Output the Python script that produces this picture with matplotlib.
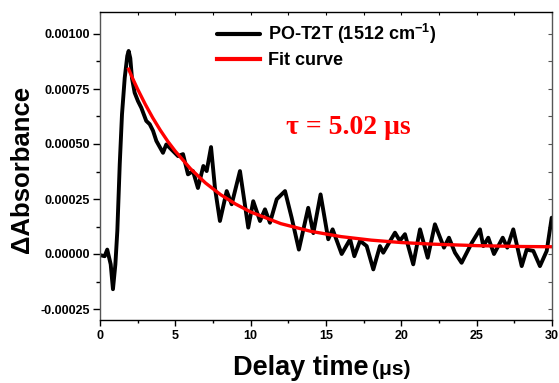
import matplotlib
matplotlib.use("Agg")
import matplotlib.pyplot as plt
from matplotlib.ticker import MultipleLocator, FormatStrFormatter

# ---- data ----
t_data = [0, 0.31, 0.48, 0.71, 0.86, 1.02, 1.15, 1.31, 1.46, 1.64, 1.81, 1.9, 2.01, 2.12,
          2.3, 2.52, 2.74, 3.07, 3.3, 3.52, 3.74, 4.18, 4.4, 4.73, 5.18, 5.51, 5.84, 6.17,
          6.5, 6.86, 7.08, 7.37, 7.63, 7.96, 8.41, 8.74, 9.29, 9.84, 10.17, 10.62, 10.95,
          11.28, 11.73, 12.28, 12.72, 13.2, 13.82, 14.16, 14.64, 15.15, 15.44, 16.04, 16.6,
          16.88, 17.26, 17.7, 18.14, 18.58, 18.8, 19.58, 19.9, 20.24, 20.79, 21.24, 21.75,
          22.23, 22.83, 23.16, 23.56, 24.0, 24.67, 25.22, 25.44, 25.77, 26.15, 26.73, 27.03,
          27.43, 27.99, 28.32, 28.76, 29.2, 29.65, 29.98]
dA_data = [-0.000005, -0.00001, 0.00002, -0.000047, -0.00016, -0.000047, 0.000105, 0.000408,
           0.000635, 0.0008, 0.0009, 0.000923, 0.00089, 0.0008, 0.000733, 0.000695, 0.000665,
           0.000605, 0.00059, 0.00056, 0.000514, 0.00046, 0.000498, 0.000476, 0.000445,
           0.000454, 0.000362, 0.000377, 0.0003, 0.0004, 0.000377, 0.000486, 0.0003, 0.00015,
           0.000286, 0.000226, 0.000377, 0.00012, 0.00024, 0.00015, 0.000203, 0.000142,
           0.000249, 0.000286, 0.000165, 0.00002, 0.00021, 0.000095, 0.000271, 0.000067,
           0.000112, 0.0, 0.000067, -0.00001, 0.00006, 0.000036, -0.00007, 0.000036, 0.000006,
           0.000097, 0.00006, 0.00009, -0.000047, 0.000112, -0.000017, 0.000135, 0.000029,
           0.000074, 0.000006, -0.00004, 0.00005, 0.000112, 0.000036, 0.000074, 0.0, 0.000074,
           0.000029, 0.000112, -0.000055, 0.00002, 0.000014, -0.000055, 0.000014, 0.000165]

t_fit = [1.9, 2.2, 2.5, 3.0, 3.5, 4.0, 4.5, 5.0, 6.0, 7.0, 8.0, 9.0, 10.0, 12.0, 14.0,
         16.0, 18.0, 20.0, 22.0, 25.0, 28.0, 30.0]
dA_fit = [0.00084, 0.000793, 0.000749, 0.000681, 0.000619, 0.000563, 0.000512, 0.000467,
          0.000388, 0.000323, 0.00027, 0.000227, 0.000191, 0.000138, 0.000103, 0.000079,
          0.000063, 0.000052, 0.000045, 0.000038, 0.000034, 0.000033]

legend_labels = ["PO-T2T (1512 cm$^{-1}$)", "Fit curve"]
tau_text = "\u03c4 = 5.02 \u03bcs"

plt.rcParams['font.family'] = ['Liberation Sans', 'DejaVu Sans']
plt.rcParams['mathtext.fontset'] = 'custom'
plt.rcParams['mathtext.rm'] = 'Liberation Sans:bold'
plt.rcParams['mathtext.bf'] = 'Liberation Sans:bold'
plt.rcParams['mathtext.it'] = 'Liberation Sans:bold'

W, H = 559, 383
fig = plt.figure(figsize=(W / 100, H / 100), dpi=100)
ax = fig.add_axes([100 / W, 1 - 320 / H, 452 / W, 308 / H])

ax.plot(t_data, dA_data, color='black', lw=2.8, solid_joinstyle='round',
        solid_capstyle='round', label=legend_labels[0])
ax.plot(t_fit, dA_fit, color='#ff0000', lw=2.4, solid_joinstyle='round',
        label=legend_labels[1])

ax.set_xlim(0, 30)
ax.set_ylim(-0.0003, 0.0011)
ax.xaxis.set_major_locator(MultipleLocator(5))
ax.xaxis.set_minor_locator(MultipleLocator(2.5))
ax.yaxis.set_major_locator(MultipleLocator(0.00025))
ax.yaxis.set_minor_locator(MultipleLocator(0.000125))
ax.yaxis.set_major_formatter(FormatStrFormatter('%.5f'))

ax.tick_params(axis='x', which='major', direction='out', length=4, width=1, pad=3)
ax.tick_params(axis='x', which='minor', direction='out', length=2.5, width=1)
ax.tick_params(axis='y', which='major', direction='out', length=5, width=1, pad=2)
ax.tick_params(axis='y', which='minor', direction='out', length=3, width=1)
for lab in ax.get_xticklabels() + ax.get_yticklabels():
    lab.set_fontweight('bold')
    lab.set_fontsize(9)

for side in ['left', 'right']:
    ax.spines[side].set_color('#555555')
for side in ['top', 'bottom']:
    ax.spines[side].set_color('black')
for s in ax.spines.values():
    s.set_linewidth(1.0)

secx = ax.secondary_xaxis('top')
secx.xaxis.set_major_locator(MultipleLocator(5))
secx.xaxis.set_minor_locator(MultipleLocator(2.5))
secx.tick_params(which='both', direction='in', labeltop=False, length=2.5, width=0.8)
secx.spines['top'].set_visible(False)
secy = ax.secondary_yaxis('right')
secy.yaxis.set_major_locator(MultipleLocator(0.00025))
secy.yaxis.set_minor_locator(MultipleLocator(0.000125))
secy.tick_params(which='both', direction='in', labelright=False, length=3, width=0.8,
                 color='#555555')
secy.spines['right'].set_visible(False)

fig.text(22 / W, 1 - 169 / H, '\u0394Absorbance', rotation=90, fontsize=18.5,
         fontweight='bold', ha='center', va='center')
fig.text(233 / W, 1 - 375 / H, 'Delay time', fontsize=19.5, fontweight='bold',
         ha='left', va='baseline')
fig.text(372 / W, 1 - 375 / H, '(\u03bcs)', fontsize=15, fontweight='bold',
         ha='left', va='baseline')

fig.text(348 / W, 1 - 127 / H, tau_text, fontsize=20, fontweight='bold', color='#ff0000',
         family=['Liberation Serif', 'DejaVu Serif'], ha='center', va='center')

leg = ax.legend(loc='upper left', bbox_to_anchor=(217 / W, 1 - 22 / H),
                bbox_transform=fig.transFigure, frameon=False, fontsize=13,
                handlelength=2.4, handletextpad=0.4, labelspacing=0.35,
                borderpad=0, borderaxespad=0)
for txt in leg.get_texts():
    txt.set_fontweight('bold')
for line in leg.get_lines():
    line.set_linewidth(3)

fig.savefig('out.png', dpi=100)
